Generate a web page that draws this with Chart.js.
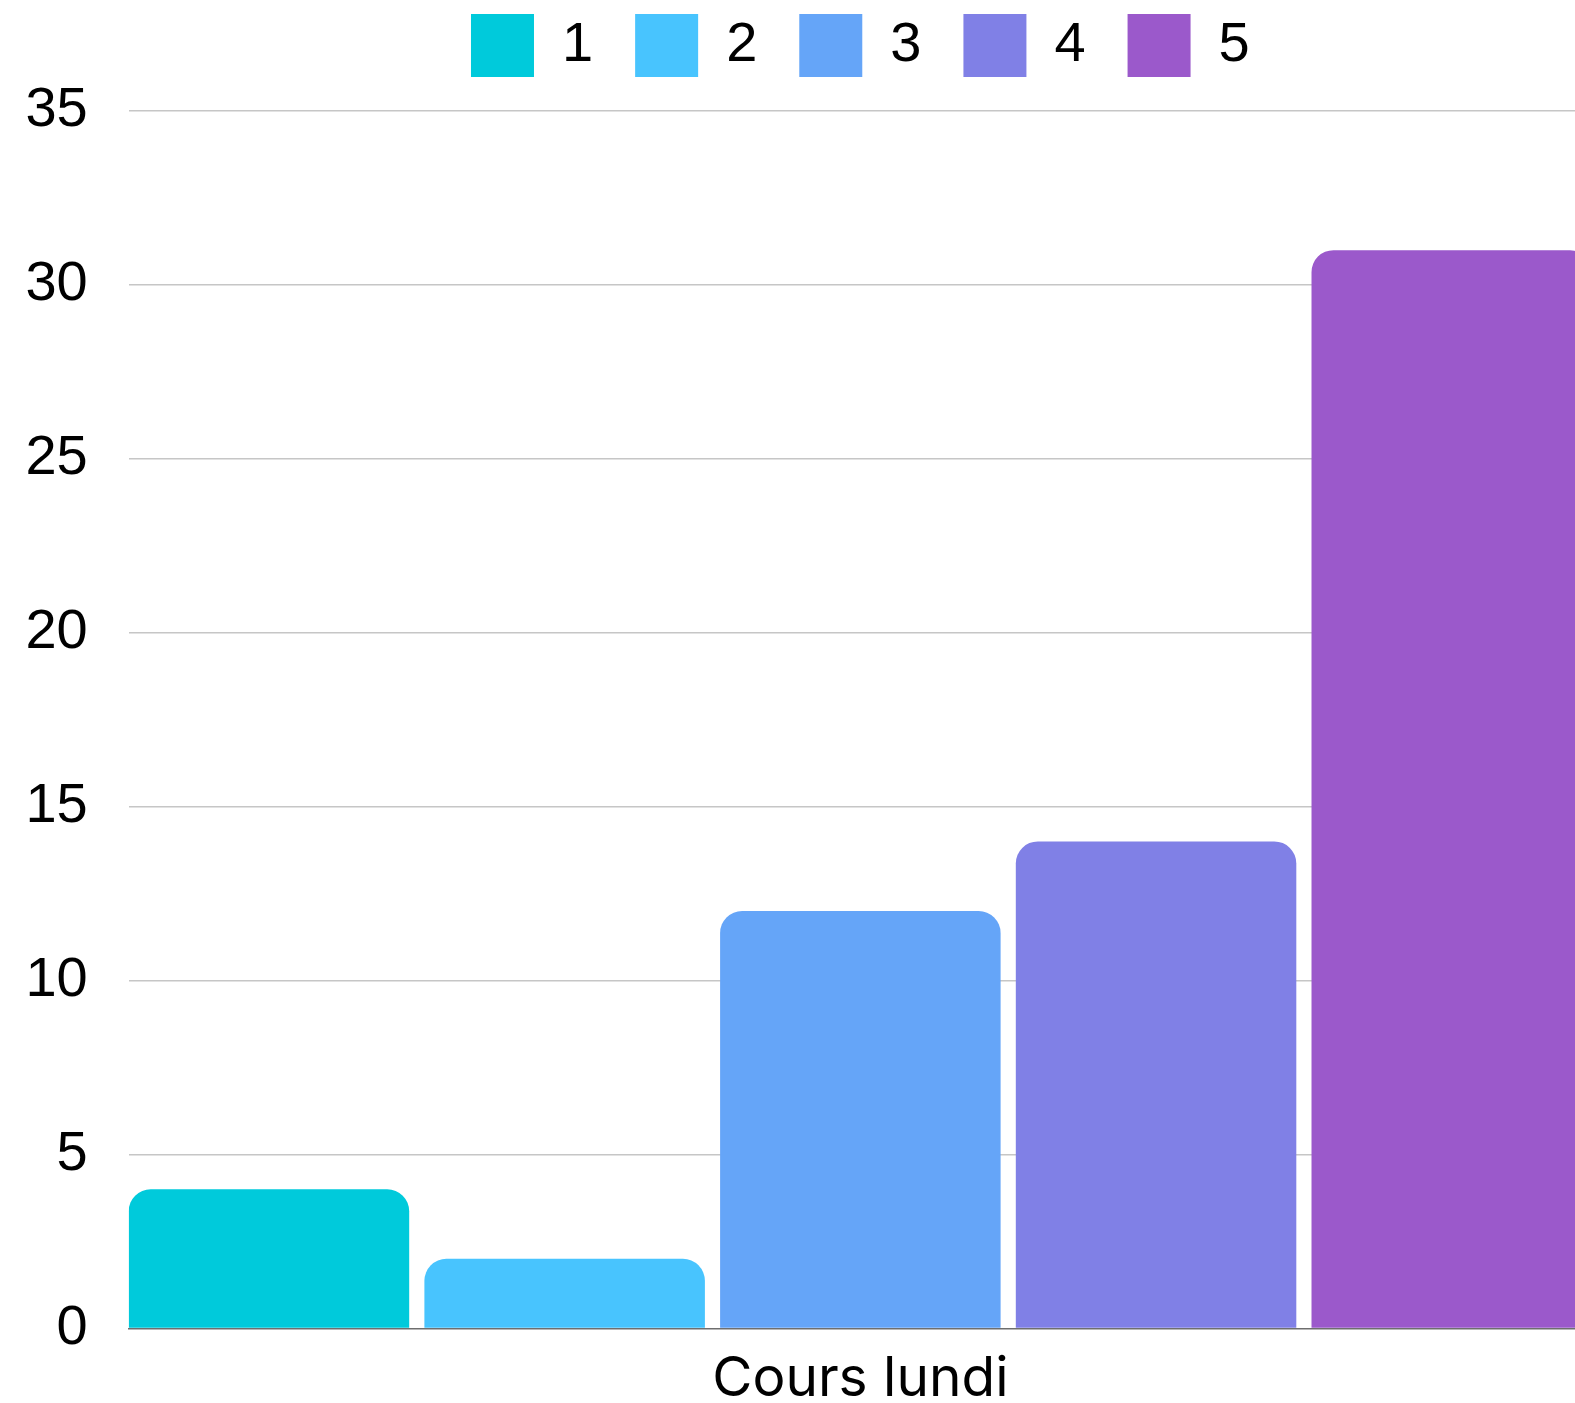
<!DOCTYPE html>
<html>
<head>
<meta charset="utf-8">
<script src="https://cdn.jsdelivr.net/npm/chart.js@4"></script>
<style>
  html, body { margin: 0; padding: 0; background: #fff; overflow: hidden; }
  #wrap { position: relative; width: 1600px; height: 1403px; }
</style>
</head>
<body>
<div id="wrap"><canvas id="chart"></canvas></div>
<script>
// One category, five answers (1..5), one bar each.
const CATEGORIES = ["Cours lundi"];
const SERIES = ["1", "2", "3", "4", "5"];
const VALUES = [4, 2, 12, 14, 31];
const COLORS = ["#00cadb", "#48c4fe", "#65a5f8", "#8080e6", "#9b59cb"];
const Y_MIN = 0;
const Y_MAX = 35;
const Y_STEP = 5;

const NUM_FONT = "'Liberation Sans', Arial, sans-serif";

// Push the plot area down below the legend.
const legendGap = {
  id: "legendGap",
  beforeLayout(chart) {
    const lg = chart.legend;
    if (!lg || lg._gapPatched) return;
    const fit = lg.fit;
    lg.fit = function () {
      fit.call(this);
      this.height += 24;
    };
    lg._gapPatched = true;
  },
};

new Chart(document.getElementById("chart"), {
  type: "bar",
  data: {
    labels: CATEGORIES,
    datasets: SERIES.map((name, i) => ({
      label: name,
      data: [VALUES[i]],
      backgroundColor: COLORS[i],
      borderWidth: 0,
      borderRadius: 22,
      borderSkipped: "start",
      categoryPercentage: 1.0104,
      barPercentage: 0.9486,
    })),
  },
  options: {
    responsive: true,
    maintainAspectRatio: false,
    animation: false,
    // x tick padding counts twice in the axis height, hence the negative bottom
    layout: { padding: { top: -28, right: 8, bottom: -28, left: 0 } },
    plugins: {
      legend: {
        position: "top",
        fullSize: false,
        labels: {
          boxWidth: 63,
          boxHeight: 63,
          padding: 42,
          color: "#000",
          font: { family: NUM_FONT, size: 56 },
        },
      },
      tooltip: { enabled: false },
    },
    scales: {
      x: {
        grid: { display: false, drawTicks: false },
        border: { display: true, color: "#6e6e6e", width: 1.5 },
        ticks: {
          color: "#000",
          padding: 18,
          font: { family: "Inter, 'Noto Sans', sans-serif", size: 55 },
        },
      },
      y: {
        min: Y_MIN,
        max: Y_MAX,
        afterFit: (scale) => { scale.width = 128.7; },
        grid: {
          drawTicks: false,
          color: (ctx) => (ctx.tick && ctx.tick.value === 0) ? "rgba(0,0,0,0)" : "#c6c6c6",
          lineWidth: 1.5,
        },
        border: { display: false },
        ticks: {
          stepSize: Y_STEP,
          padding: 41,
          color: "#000",
          font: { family: NUM_FONT, size: 56 },
        },
      },
    },
  },
  plugins: [legendGap],
});
</script>
</body>
</html>
